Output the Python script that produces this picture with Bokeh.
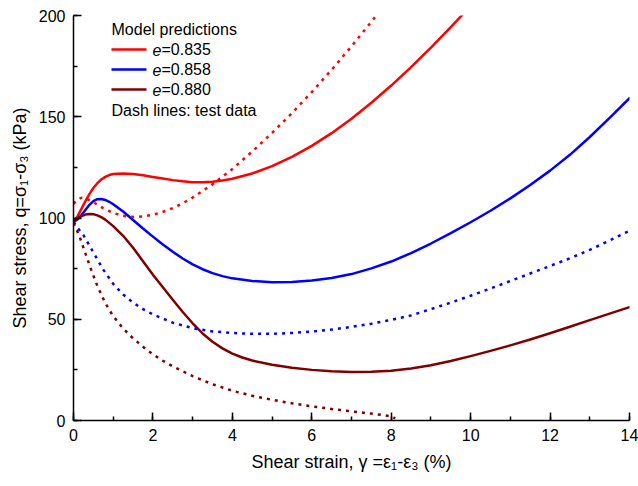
from bokeh.plotting import figure
from bokeh.models import Range1d, Label, Arrow, SingleIntervalTicker
from bokeh.embed import file_html
from bokeh.resources import INLINE

# ---- data ----
red_model_x = [0, 0.1, 0.2, 0.3, 0.4, 0.5, 0.6, 0.7, 0.8, 0.9, 1.0, 1.25, 1.5, 1.75, 2.0, 2.25, 2.5, 2.75, 3.0,
               3.25, 3.5, 3.75, 4.0, 4.5, 5.0, 5.5, 6.0, 6.5, 7.0, 7.5, 8.0, 8.5, 9.0, 9.5, 9.8]
red_model_y = [98, 100.8, 104.5, 108.3, 111.8, 114.8, 117.2, 119.0, 120.3, 121.2, 121.7, 122.0, 121.7, 121.1,
               120.3, 119.5, 118.7, 118.1, 117.7, 117.6, 117.9, 118.5, 119.4, 122.0, 125.6, 130.2, 135.6, 141.9,
               149.0, 156.9, 165.4, 174.5, 184.1, 194.2, 200.5]

red_test_x = [0, 0.1, 0.2, 0.3, 0.5, 0.75, 1.0, 1.25, 1.5, 1.75, 2.0, 2.25, 2.5, 2.75, 3.0, 3.5, 4.0, 4.5, 5.0,
              5.5, 6.0, 6.5, 7.0, 7.5, 7.65]
red_test_y = [107, 109, 110, 109.8, 107.8, 104.8, 102.5, 101.1, 100.5, 100.7, 101.6, 103.0, 104.9, 107.3, 110.1,
              116.6, 124.2, 132.8, 142.0, 151.8, 162.2, 173.2, 184.8, 196.9, 200.6]

blue_model_x = [0, 0.1, 0.2, 0.3, 0.4, 0.5, 0.6, 0.7, 0.8, 0.9, 1.0, 1.25, 1.5, 1.75, 2.0, 2.25, 2.5, 2.75, 3.0,
                3.25, 3.5, 3.75, 4.0, 4.5, 5.0, 5.5, 6.0, 6.5, 7.0, 7.5, 8.0, 8.5, 9.0, 9.5, 10.0, 10.5, 11.0,
                11.5, 12.0, 12.5, 13.0, 13.5, 14.0]
blue_model_y = [98, 99.3, 101.5, 104.0, 106.5, 108.3, 109.3, 109.4, 108.9, 108.0, 106.8, 103.2, 99.0, 94.8, 90.8,
                86.9, 83.3, 80.0, 77.1, 74.7, 72.8, 71.3, 70.2, 68.9, 68.3, 68.4, 69.1, 70.4, 72.3, 75.1, 78.5,
                82.7, 87.4, 92.5, 97.9, 103.6, 109.7, 116.3, 123.4, 131.2, 140.0, 149.4, 159.2]

blue_test_x = [0, 0.1, 0.25, 0.5, 0.75, 1.0, 1.25, 1.5, 1.75, 2.0, 2.5, 3.0, 3.5, 4.0, 4.5, 5.0, 5.5, 6.0, 6.5,
               7.0, 7.5, 8.0, 8.5, 9.0, 9.5, 10.0, 10.5, 11.0, 11.5, 12.0, 12.5, 13.0, 13.5, 14.0]
blue_test_y = [98, 95.2, 91.5, 83.0, 74.5, 67.5, 62.2, 58.2, 55.0, 52.4, 48.3, 45.6, 44.0, 43.2, 42.8, 42.8, 43.2,
               43.9, 44.9, 46.2, 47.8, 49.7, 51.9, 55.0, 58.2, 61.6, 65.2, 68.9, 72.6, 76.3, 80.1, 84.3, 88.9, 93.7]

dred_model_x = [0, 0.1, 0.2, 0.3, 0.4, 0.5, 0.6, 0.7, 0.8, 1.0, 1.25, 1.5, 1.75, 2.0, 2.25, 2.5, 2.75, 3.0, 3.25,
                3.5, 3.75, 4.0, 4.25, 4.5, 5.0, 5.5, 6.0, 6.5, 7.0, 7.5, 8.0, 8.5, 9.0, 9.5, 10.0, 10.5, 11.0,
                11.5, 12.0, 12.5, 13.0, 13.5, 14.0]
dred_model_y = [98, 99.6, 100.9, 101.7, 102.0, 101.9, 101.3, 100.4, 99.2, 96.0, 91.2, 85.3, 78.7, 72.0, 65.8, 59.6,
                53.6, 48.0, 43.0, 38.9, 35.6, 33.0, 31.1, 29.6, 27.5, 26.0, 25.0, 24.3, 24.0, 24.1, 24.6, 25.7,
                27.3, 29.4, 31.8, 34.4, 37.1, 40.0, 43.1, 46.3, 49.6, 52.8, 56.0]

dred_test_x = [0, 0.15, 0.3, 0.45, 0.6, 0.8, 1.0, 1.25, 1.5, 1.75, 2.0, 2.25, 2.5, 3.0, 3.5, 4.0, 4.5, 5.0, 5.5,
               6.0, 6.5, 7.0, 7.5, 8.0, 8.1]
dred_test_y = [97.5, 91, 82.5, 74.2, 66.5, 58.0, 51.5, 45.4, 40.6, 36.4, 32.7, 29.5, 26.7, 21.9, 17.9, 14.7, 12.2,
               10.2, 8.5, 7.0, 5.7, 4.5, 3.4, 2.1, 1.0]

legend_title = "Model predictions"
legend_labels = ["=0.835", "=0.858", "=0.880"]
legend_note = "Dash lines: test data"
x_label = "Shear strain, \u03b3 =\u03b5\u2081-\u03b5\u2083 (%)"
y_label = "Shear stress, q=\u03c3\u2081-\u03c3\u2083 (kPa)"

RED, BLUE, DRED = "#ff0000", "#0000ff", "#800000"
FONT = "Liberation Sans"

p = figure(width=638, height=486, output_backend="svg", toolbar_location=None,
           x_range=Range1d(0, 14), y_range=Range1d(0, 200),
           min_border_left=73, min_border_right=9, min_border_top=15, min_border_bottom=66)
p.xgrid.visible = False
p.ygrid.visible = False
p.outline_line_color = None
p.background_fill_color = "white"

lw = 2.5
for xs, ys, c in [(red_model_x, red_model_y, RED), (blue_model_x, blue_model_y, BLUE),
                  (dred_model_x, dred_model_y, DRED)]:
    p.line(xs, ys, line_color=c, line_width=lw, line_join="round", line_cap="round")
for xs, ys, c in [(red_test_x, red_test_y, RED), (blue_test_x, blue_test_y, BLUE), (dred_test_x, dred_test_y, DRED)]:
    p.line(xs, ys, line_color=c, line_width=2.5, line_dash="3 5")

p.xaxis.ticker = SingleIntervalTicker(interval=2, num_minor_ticks=2)
p.yaxis.ticker = SingleIntervalTicker(interval=50, num_minor_ticks=2)
for ax in (p.xaxis, p.yaxis):
    ax.axis_line_width = 1.5
    ax.axis_line_color = "black"
    ax.major_tick_line_width = 1.5
    ax.minor_tick_line_width = 1.5
    ax.major_tick_in = 8
    ax.major_tick_out = 0
    ax.minor_tick_in = 4
    ax.minor_tick_out = 0
    ax.major_label_text_font = FONT
    ax.major_label_text_font_size = "16px"
    ax.major_label_text_color = "black"
    ax.axis_label_text_font = FONT
    ax.axis_label_text_font_size = "18px"
    ax.axis_label_text_font_style = "normal"
    ax.axis_label_text_color = "black"
p.xaxis.axis_label = x_label
p.yaxis.axis_label = y_label
p.xaxis.major_label_standoff = 8
p.yaxis.major_label_standoff = 8
p.xaxis.axis_label_standoff = 8
p.yaxis.axis_label_standoff = 6

# legend (screen units relative to the plot frame)
lx0, lx1, tx = 38, 73, 79
rows = [371, 351, 331]
common = dict(x_units="screen", y_units="screen", text_font=FONT, text_font_size="16px",
              text_baseline="middle", text_color="black")
p.add_layout(Label(x=lx0, y=391, text=legend_title, **common))
for yy, c, lab in zip(rows, [RED, BLUE, DRED], legend_labels):
    p.add_layout(Arrow(x_start=lx0, y_start=yy, x_end=lx1, y_end=yy, start_units="screen", end_units="screen",
                       start=None, end=None, line_color=c, line_width=2.5))
    p.add_layout(Label(x=tx, y=yy, text="e", text_font_style="italic", **common))
    p.add_layout(Label(x=tx + 9, y=yy, text=lab, **common))
p.add_layout(Label(x=lx0, y=310, text=legend_note, **common))

open("out.html", "w").write(file_html(p, INLINE))
